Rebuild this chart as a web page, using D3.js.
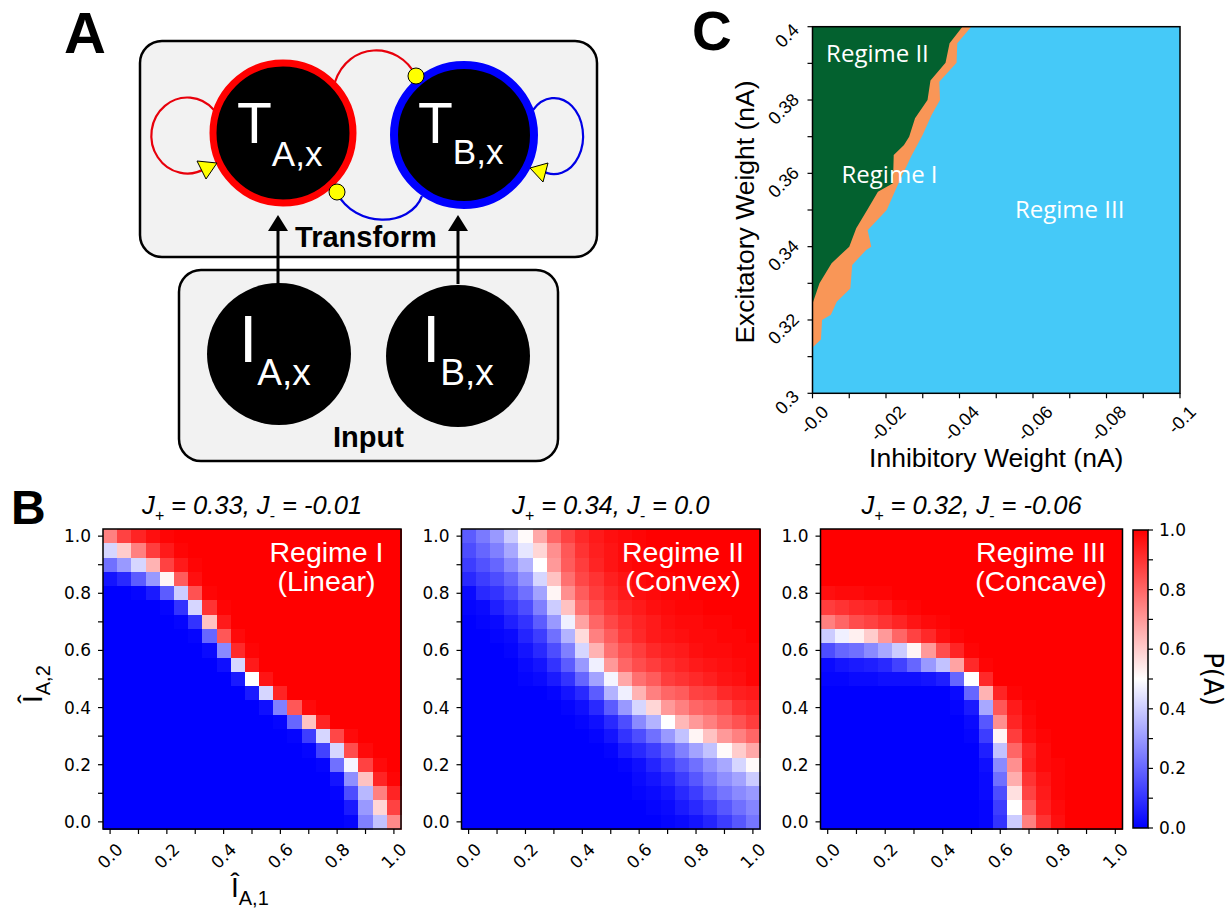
<!DOCTYPE html>
<html>
<head>
<meta charset="utf-8">
<script src="https://cdn.jsdelivr.net/npm/d3@7"></script>
<style>
  body { margin: 0; background: #fff; }
  svg text { font-family: "Liberation Sans", Arial, sans-serif; }
</style>
</head>
<body>
<svg id="fig" width="1231" height="911"></svg>
<script>
// ---------- Panel B data: P(A) on a 21 x 21 grid of normalised inputs ----------
const inputA1 = [0, 0.05, 0.1, 0.15, 0.2, 0.25, 0.3, 0.35, 0.4, 0.45, 0.5,
                 0.55, 0.6, 0.65, 0.7, 0.75, 0.8, 0.85, 0.9, 0.95, 1.0];
// rows listed from the top of the map (I_A,2 = 1.0) down to 0.0
const inputA2 = [1.0, 0.95, 0.9, 0.85, 0.8, 0.75, 0.7, 0.65, 0.6, 0.55, 0.5,
                 0.45, 0.4, 0.35, 0.3, 0.25, 0.2, 0.15, 0.1, 0.05, 0];

const pLinear = [
  [0.75,0.87,0.93,0.97,0.99,1,1,1,1,1,1,1,1,1,1,1,1,1,1,1,1],
  [0.42,0.60,0.75,0.88,0.95,0.99,1,1,1,1,1,1,1,1,1,1,1,1,1,1,1],
  [0.22,0.30,0.42,0.65,0.87,0.95,0.99,1,1,1,1,1,1,1,1,1,1,1,1,1,1],
  [0.04,0.08,0.18,0.30,0.52,0.82,0.97,1,1,1,1,1,1,1,1,1,1,1,1,1,1],
  [0,0,0.01,0.05,0.18,0.40,0.84,0.99,1,1,1,1,1,1,1,1,1,1,1,1,1],
  [0,0,0,0,0.01,0.10,0.42,0.90,0.99,1,1,1,1,1,1,1,1,1,1,1,1],
  [0,0,0,0,0,0.01,0.10,0.62,0.95,1,1,1,1,1,1,1,1,1,1,1,1],
  [0,0,0,0,0,0,0.01,0.20,0.83,0.98,1,1,1,1,1,1,1,1,1,1,1],
  [0,0,0,0,0,0,0,0.02,0.27,0.92,0.99,1,1,1,1,1,1,1,1,1,1],
  [0,0,0,0,0,0,0,0,0.03,0.42,0.95,1,1,1,1,1,1,1,1,1,1],
  [0,0,0,0,0,0,0,0,0,0.05,0.50,0.96,1,1,1,1,1,1,1,1,1],
  [0,0,0,0,0,0,0,0,0,0,0.05,0.42,0.93,1,1,1,1,1,1,1,1],
  [0,0,0,0,0,0,0,0,0,0,0,0.03,0.25,0.83,0.98,1,1,1,1,1,1],
  [0,0,0,0,0,0,0,0,0,0,0,0,0.01,0.20,0.62,0.93,1,1,1,1,1],
  [0,0,0,0,0,0,0,0,0,0,0,0,0,0.01,0.12,0.42,0.86,0.98,1,1,1],
  [0,0,0,0,0,0,0,0,0,0,0,0,0,0,0.01,0.13,0.42,0.85,0.98,1,1],
  [0,0,0,0,0,0,0,0,0,0,0,0,0,0,0,0.01,0.22,0.48,0.87,0.98,1],
  [0,0,0,0,0,0,0,0,0,0,0,0,0,0,0,0,0.04,0.28,0.62,0.93,0.99],
  [0,0,0,0,0,0,0,0,0,0,0,0,0,0,0,0,0.01,0.15,0.36,0.75,0.93],
  [0,0,0,0,0,0,0,0,0,0,0,0,0,0,0,0,0,0.05,0.30,0.58,0.87],
  [0,0,0,0,0,0,0,0,0,0,0,0,0,0,0,0,0,0.01,0.25,0.38,0.73]
];

const pConvex = [
  [0.18,0.24,0.30,0.40,0.51,0.67,0.80,0.87,0.92,0.95,0.97,0.98,0.99,1,1,1,1,1,1,1,1],
  [0.15,0.20,0.25,0.33,0.45,0.58,0.72,0.83,0.90,0.94,0.96,0.98,0.99,1,1,1,1,1,1,1,1],
  [0.12,0.16,0.20,0.27,0.35,0.50,0.70,0.82,0.88,0.93,0.96,0.98,0.99,0.99,1,1,1,1,1,1,1],
  [0.08,0.12,0.15,0.20,0.28,0.42,0.62,0.78,0.86,0.90,0.94,0.96,0.98,0.99,0.99,1,1,1,1,1,1],
  [0.02,0.08,0.10,0.15,0.22,0.32,0.52,0.72,0.82,0.88,0.92,0.95,0.97,0.98,0.99,0.99,1,1,1,1,1],
  [0.01,0.02,0.06,0.10,0.15,0.25,0.40,0.62,0.78,0.85,0.90,0.93,0.95,0.97,0.98,0.99,0.99,1,1,1,1],
  [0,0.01,0.02,0.06,0.10,0.18,0.30,0.47,0.68,0.80,0.86,0.90,0.93,0.95,0.97,0.98,0.98,0.99,0.99,1,1],
  [0,0,0.01,0.02,0.07,0.12,0.22,0.35,0.57,0.75,0.82,0.88,0.92,0.95,0.96,0.97,0.98,0.98,0.99,0.99,1],
  [0,0,0,0.01,0.04,0.08,0.15,0.25,0.42,0.65,0.78,0.84,0.88,0.92,0.94,0.95,0.97,0.98,0.98,0.99,0.99],
  [0,0,0,0,0.02,0.04,0.10,0.18,0.30,0.47,0.70,0.80,0.85,0.88,0.91,0.93,0.95,0.96,0.97,0.98,0.99],
  [0,0,0,0,0.01,0.02,0.05,0.10,0.20,0.32,0.48,0.67,0.78,0.82,0.88,0.90,0.92,0.94,0.96,0.97,0.99],
  [0,0,0,0,0,0,0.01,0.04,0.08,0.18,0.35,0.47,0.65,0.75,0.80,0.82,0.87,0.88,0.92,0.94,0.95],
  [0,0,0,0,0,0,0,0.01,0.03,0.08,0.18,0.30,0.42,0.58,0.70,0.75,0.80,0.82,0.85,0.90,0.92],
  [0,0,0,0,0,0,0,0,0.01,0.03,0.08,0.15,0.27,0.35,0.50,0.64,0.70,0.75,0.80,0.84,0.88],
  [0,0,0,0,0,0,0,0,0,0.01,0.04,0.10,0.15,0.22,0.30,0.38,0.52,0.62,0.70,0.75,0.80],
  [0,0,0,0,0,0,0,0,0,0,0.01,0.05,0.08,0.12,0.18,0.25,0.32,0.38,0.51,0.60,0.67],
  [0,0,0,0,0,0,0,0,0,0,0,0.01,0.03,0.07,0.12,0.17,0.22,0.28,0.33,0.42,0.51],
  [0,0,0,0,0,0,0,0,0,0,0,0,0.02,0.04,0.07,0.12,0.17,0.23,0.28,0.32,0.40],
  [0,0,0,0,0,0,0,0,0,0,0,0,0.01,0.02,0.04,0.08,0.12,0.18,0.23,0.27,0.30],
  [0,0,0,0,0,0,0,0,0,0,0,0,0,0.01,0.02,0.05,0.08,0.12,0.17,0.22,0.26],
  [0,0,0,0,0,0,0,0,0,0,0,0,0,0,0.01,0.02,0.04,0.07,0.12,0.17,0.23]
];

const pConcave = [
  [1,1,1,1,1,1,1,1,1,1,1,1,1,1,1,1,1,1,1,1,1],
  [1,1,1,1,1,1,1,1,1,1,1,1,1,1,1,1,1,1,1,1,1],
  [1,1,1,1,1,1,1,1,1,1,1,1,1,1,1,1,1,1,1,1,1],
  [1,1,1,1,1,1,1,1,1,1,1,1,1,1,1,1,1,1,1,1,1],
  [0.97,0.98,0.98,0.99,0.99,1,1,1,1,1,1,1,1,1,1,1,1,1,1,1,1],
  [0.88,0.90,0.92,0.93,0.95,0.98,0.99,1,1,1,1,1,1,1,1,1,1,1,1,1,1],
  [0.75,0.80,0.85,0.87,0.90,0.93,0.96,0.98,0.99,1,1,1,1,1,1,1,1,1,1,1,1],
  [0.40,0.47,0.53,0.60,0.70,0.80,0.87,0.92,0.97,0.99,1,1,1,1,1,1,1,1,1,1,1],
  [0.15,0.20,0.22,0.27,0.33,0.40,0.52,0.70,0.85,0.93,0.99,1,1,1,1,1,1,1,1,1,1],
  [0.02,0.04,0.05,0.06,0.08,0.13,0.20,0.30,0.38,0.68,0.92,0.99,1,1,1,1,1,1,1,1,1],
  [0.01,0.01,0.02,0.02,0.03,0.03,0.03,0.04,0.06,0.20,0.50,0.92,1,1,1,1,1,1,1,1,1],
  [0,0,0,0,0,0,0,0,0,0.02,0.20,0.65,0.93,0.99,1,1,1,1,1,1,1],
  [0,0,0,0,0,0,0,0,0,0.01,0.05,0.33,0.83,0.95,0.99,1,1,1,1,1,1],
  [0,0,0,0,0,0,0,0,0,0,0.02,0.17,0.72,0.93,0.98,1,1,1,1,1,1],
  [0,0,0,0,0,0,0,0,0,0,0.01,0.12,0.52,0.88,0.97,0.99,1,1,1,1,1],
  [0,0,0,0,0,0,0,0,0,0,0,0.06,0.38,0.80,0.93,0.98,1,1,1,1,1],
  [0,0,0,0,0,0,0,0,0,0,0,0.03,0.27,0.72,0.94,0.98,0.99,1,1,1,1],
  [0,0,0,0,0,0,0,0,0,0,0,0.02,0.22,0.66,0.90,0.96,0.99,1,1,1,1],
  [0,0,0,0,0,0,0,0,0,0,0,0.02,0.15,0.56,0.87,0.95,0.99,1,1,1,1],
  [0,0,0,0,0,0,0,0,0,0,0,0.01,0.12,0.50,0.82,0.94,0.98,1,1,1,1],
  [0,0,0,0,0,0,0,0,0,0,0,0.01,0.10,0.40,0.75,0.90,0.97,1,1,1,1]
];

const jPlus  = ["0.33", "0.34", "0.32"];
const jMinus = ["-0.01", "0.0", "-0.06"];
const regimeNames = [["Regime I", "(Linear)"], ["Regime II", "(Convex)"], ["Regime III", "(Concave)"]];

const heatTicks     = [0, 0.1, 0.2, 0.3, 0.4, 0.5, 0.6, 0.7, 0.8, 0.9, 1.0];
const heatTickText  = ["0.0", "", "0.2", "", "0.4", "", "0.6", "", "0.8", "", "1.0"];

// ---------- Panel C data: regime boundaries in the weight plane ----------
// edge between Regime II (left) and Regime I, [inhibitory, excitatory]
const edgeIItoI = [
  [-0.0408,0.4000],[-0.0373,0.3955],[-0.0362,0.3902],[-0.0321,0.3853],[-0.0313,0.3800],
  [-0.0279,0.3750],[-0.0263,0.3700],[-0.0249,0.3677],[-0.0221,0.3650],[-0.0219,0.3573],
  [-0.0178,0.3550],[-0.0150,0.3502],[-0.0119,0.3450],[-0.0100,0.3400],[-0.0052,0.3355],
  [-0.0019,0.3300],[0.0000,0.3244]
];
// edge between Regime I and Regime III (right)
const edgeItoIII = [
  [-0.0432,0.4000],[-0.0394,0.3955],[-0.0392,0.3902],[-0.0345,0.3850],[-0.0347,0.3800],
  [-0.0324,0.3759],[-0.0300,0.3705],[-0.0268,0.3645],[-0.0230,0.3564],[-0.0202,0.3500],
  [-0.0150,0.3445],[-0.0160,0.3400],[-0.0146,0.3391],[-0.0108,0.3350],[-0.0103,0.3286],
  [-0.0066,0.3250],[-0.0050,0.3214],[-0.0026,0.3200],[-0.0023,0.3147],[0.0000,0.3125]
];
const inhTicks = [0, -0.02, -0.04, -0.06, -0.08, -0.1];
const inhTickText = ["-0.0", "-0.02", "-0.04", "-0.06", "-0.08", "-0.1"];
const inhMinor = [-0.01, -0.03, -0.05, -0.07, -0.09];
const excTicks = [0.3, 0.32, 0.34, 0.36, 0.38, 0.4];
const excTickText = ["0.3", "0.32", "0.34", "0.36", "0.38", "0.4"];
const excMinor = [0.31, 0.33, 0.35, 0.37, 0.39];

const cbTicks = [0, 0.1, 0.2, 0.3, 0.4, 0.5, 0.6, 0.7, 0.8, 0.9, 1.0];
const cbTickText = ["0.0", "", "0.2", "", "0.4", "", "0.6", "", "0.8", "", "1.0"];

// ---------- drawing ----------
const svg = d3.select("#fig");
const bwr = d3.scaleLinear().domain([0, 0.5, 1]).range(["#0000ff", "#ffffff", "#ff0000"]);
const TICK_FONT = "'DejaVu Sans', sans-serif";

// rotated (-45 deg) label whose rotated box is centred on cx with its top at `top`
function rotLabelBelow(g, str, cx, top, size, family) {
  const t = g.append("text").text(str)
    .attr("text-anchor", "middle").attr("dominant-baseline", "central")
    .style("font-family", family).style("font-size", size + "px");
  const w = t.node().getComputedTextLength();
  const side = (w + 0.72 * size) * 0.7071;
  t.attr("transform", `translate(${cx},${top + side / 2}) rotate(-45)`);
}
// rotated (-45 deg) label whose rotated box has its right edge at `right`
function rotLabelLeft(g, str, right, cy, size, family) {
  const t = g.append("text").text(str)
    .attr("text-anchor", "middle").attr("dominant-baseline", "central")
    .style("font-family", family).style("font-size", size + "px");
  const w = t.node().getComputedTextLength();
  const side = (w + 0.72 * size) * 0.7071;
  t.attr("transform", `translate(${right - side / 2},${cy}) rotate(-45)`);
}

// ===== Panel A: circuit schematic =====
(function drawSchematic() {
  const g = svg.append("g");
  const box = (x, y, w, h) => g.append("rect").attr("x", x).attr("y", y)
    .attr("width", w).attr("height", h).attr("rx", 22)
    .attr("fill", "#f2f2f2").attr("stroke", "#000").attr("stroke-width", 2.5);
  box(140, 41, 457, 216);
  box(179, 270, 379, 191);

  // self-excitation loops and cross-inhibition arcs
  g.append("path").attr("d", "M214,110 A36 38 0 1 0 206,168")
    .attr("fill", "none").attr("stroke", "#e8000b").attr("stroke-width", 2.2);
  g.append("path").attr("d", "M533,110 A29 38 0 1 1 541,170")
    .attr("fill", "none").attr("stroke", "#0000e6").attr("stroke-width", 2.2);
  g.append("path").attr("d", "M335,82 C348,42 398,40 416,76")
    .attr("fill", "none").attr("stroke", "#e8000b").attr("stroke-width", 2.2);
  g.append("path").attr("d", "M422,196 C410,228 355,228 337,193")
    .attr("fill", "none").attr("stroke", "#0000e6").attr("stroke-width", 2.2);

  // transform-layer units
  g.append("circle").attr("cx", 283).attr("cy", 133).attr("r", 70)
    .attr("fill", "#000").attr("stroke", "#ff0000").attr("stroke-width", 7);
  g.append("circle").attr("cx", 464).attr("cy", 135).attr("r", 70)
    .attr("fill", "#000").attr("stroke", "#0000ff").attr("stroke-width", 8);
  // input units
  g.append("ellipse").attr("cx", 279).attr("cy", 354).attr("rx", 72).attr("ry", 71).attr("fill", "#000");
  g.append("ellipse").attr("cx", 458).attr("cy", 356).attr("rx", 72).attr("ry", 71).attr("fill", "#000");

  // synapse markers
  g.append("polygon").attr("points", "197,161 217,163 206,179")
    .attr("fill", "#ffff00").attr("stroke", "#000").attr("stroke-width", 1);
  g.append("polygon").attr("points", "548,163 530,168 543,182")
    .attr("fill", "#ffff00").attr("stroke", "#000").attr("stroke-width", 1);
  g.append("circle").attr("cx", 416).attr("cy", 76).attr("r", 8)
    .attr("fill", "#ffff00").attr("stroke", "#000").attr("stroke-width", 1);
  g.append("circle").attr("cx", 337).attr("cy", 192).attr("r", 8)
    .attr("fill", "#ffff00").attr("stroke", "#000").attr("stroke-width", 1);

  // feed-forward arrows
  [278, 458].forEach(x => {
    g.append("line").attr("x1", x).attr("x2", x).attr("y1", 284).attr("y2", 228)
      .attr("stroke", "#000").attr("stroke-width", 3);
    g.append("polygon").attr("points", `${x},215 ${x - 10},231 ${x + 10},231`).attr("fill", "#000");
  });

  // unit labels
  const unit = (x, y, main, mainSize, sub, subSize, dy) => {
    const t = g.append("text").attr("x", x).attr("y", y).attr("fill", "#fff")
      .style("font-size", mainSize + "px").text(main);
    t.append("tspan").attr("dy", dy).style("font-size", subSize + "px").text(sub);
  };
  unit(237, 143, "T", 57, "A,x", 35, 23);
  unit(418, 143, "T", 57, "B,x", 35, 21);
  unit(239, 362, "I", 66, "A,x", 37, 23);
  unit(422, 362, "I", 66, "B,x", 37, 23);

  g.append("text").attr("x", 366).attr("y", 247).attr("text-anchor", "middle")
    .style("font-size", "29px").style("font-weight", "bold").text("Transform");
  g.append("text").attr("x", 368.5).attr("y", 447).attr("text-anchor", "middle")
    .style("font-size", "29px").style("font-weight", "bold").text("Input");
})();

// ===== Panel B: P(A) maps =====
const frames = [{ x0: 103, x1: 401 }, { x0: 461.5, x1: 760 }, { x0: 820.5, x1: 1122.5 }];
const mapTop = 529, mapBottom = 829;
const maps = [pLinear, pConvex, pConcave];
const textCentres = [326.5, 683, 1041];

maps.forEach((vals, k) => {
  const g = svg.append("g");
  const x = d3.scaleLinear().domain([-0.025, 1.025]).range([frames[k].x0, frames[k].x1]);
  const y = d3.scaleLinear().domain([-0.025, 1.025]).range([mapBottom, mapTop]);
  const half = 0.025;

  const cells = [];
  vals.forEach((row, r) => row.forEach((v, c) => cells.push({ a1: inputA1[c], a2: inputA2[r], v })));
  g.append("g").selectAll("rect").data(cells).join("rect")
    .attr("x", d => x(d.a1 - half))
    .attr("y", d => y(d.a2 + half))
    .attr("width", d => x(d.a1 + half) - x(d.a1 - half) + 0.5)
    .attr("height", d => y(d.a2 - half) - y(d.a2 + half) + 0.5)
    .attr("fill", d => bwr(d.v))
    .attr("shape-rendering", "crispEdges");

  // frame
  g.append("rect").attr("x", frames[k].x0).attr("y", mapTop)
    .attr("width", frames[k].x1 - frames[k].x0).attr("height", mapBottom - mapTop)
    .attr("fill", "none").attr("stroke", "#000").attr("stroke-width", 1.5);

  // ticks
  g.selectAll(".xt").data(heatTicks).join("line")
    .attr("x1", d => x(d)).attr("x2", d => x(d))
    .attr("y1", mapBottom).attr("y2", mapBottom + 5)
    .attr("stroke", "#000").attr("stroke-width", 1.2);
  g.selectAll(".yt").data(heatTicks).join("line")
    .attr("y1", d => y(d)).attr("y2", d => y(d))
    .attr("x1", frames[k].x0).attr("x2", frames[k].x0 - 5)
    .attr("stroke", "#000").attr("stroke-width", 1.2);

  heatTicks.forEach((d, i) => {
    if (!heatTickText[i]) return;
    g.append("text").attr("x", frames[k].x0 - 12).attr("y", y(d))
      .attr("text-anchor", "end").attr("dominant-baseline", "central")
      .style("font-family", TICK_FONT).style("font-size", "17px").text(heatTickText[i]);
    rotLabelBelow(g, heatTickText[i], x(d), mapBottom + 13, 17, TICK_FONT);
  });

  // title with subscripted J's
  const cx = (frames[k].x0 + frames[k].x1) / 2;
  const t = g.append("text").attr("x", cx).attr("y", 514).attr("text-anchor", "middle")
    .style("font-size", "25.5px").style("font-style", "italic");
  t.append("tspan").text("J");
  t.append("tspan").attr("dy", 7).style("font-size", "16px").text("+");
  t.append("tspan").attr("dy", -7).text(" = " + jPlus[k] + ", J");
  t.append("tspan").attr("dy", 7).style("font-size", "16px").text("-");
  t.append("tspan").attr("dy", -7).text(" = " + jMinus[k]);

  // regime name, two centred lines
  regimeNames[k].forEach((line, i) => {
    g.append("text").attr("x", textCentres[k]).attr("y", 562 + i * 29)
      .attr("text-anchor", "middle").attr("fill", "#fff")
      .style("font-size", "28.5px").text(line);
  });
});

// axis labels of the first map
(function () {
  const yl = svg.append("text").attr("transform", "translate(42,703) rotate(-90)")
    .style("font-size", "28px");
  yl.append("tspan").text("Î");
  yl.append("tspan").attr("dy", 8).style("font-size", "20px").text("A,2");
  const xl = svg.append("text").attr("x", 231).attr("y", 897).style("font-size", "28px");
  xl.append("tspan").text("Î");
  xl.append("tspan").attr("dy", 8).style("font-size", "20px").text("A,1");
})();

// colour bar
(function () {
  const x0 = 1133, w = 15, top = 530, bottom = 828;
  const grad = svg.append("defs").append("linearGradient").attr("id", "bwrGrad")
    .attr("x1", 0).attr("y1", 1).attr("x2", 0).attr("y2", 0);
  [0, 0.5, 1].forEach(s => grad.append("stop").attr("offset", s).attr("stop-color", bwr(s)));
  svg.append("rect").attr("x", x0).attr("y", top).attr("width", w).attr("height", bottom - top)
    .attr("fill", "url(#bwrGrad)").attr("stroke", "#000").attr("stroke-width", 1.5);
  const cy = d3.scaleLinear().domain([0, 1]).range([bottom, top]);
  cbTicks.forEach((d, i) => {
    svg.append("line").attr("x1", x0 + w).attr("x2", x0 + w + 5)
      .attr("y1", cy(d)).attr("y2", cy(d)).attr("stroke", "#000").attr("stroke-width", 1.2);
    if (cbTickText[i]) svg.append("text").attr("x", 1159).attr("y", cy(d))
      .attr("dominant-baseline", "central")
      .style("font-family", TICK_FONT).style("font-size", "17px").text(cbTickText[i]);
  });
  svg.append("text").attr("transform", "translate(1204,679) rotate(90)")
    .attr("text-anchor", "middle").style("font-family", TICK_FONT)
    .style("font-size", "26px").text("P(A)");
})();

// ===== Panel C: regime map =====
(function () {
  const g = svg.append("g");
  const left = 812.5, right = 1180, top = 26.7, bottom = 393.3;
  const x = d3.scaleLinear().domain([0, -0.1]).range([left, right]);
  const y = d3.scaleLinear().domain([0.3, 0.4]).range([bottom, top]);
  const line = d3.line().x(d => x(d[0])).y(d => y(d[1]));

  g.append("rect").attr("x", left).attr("y", top).attr("width", right - left)
    .attr("height", bottom - top).attr("fill", "#45c9f8");
  // Regime I band: everything left of the I/III edge
  g.append("path").attr("d", line([[0, 0.4], ...edgeItoIII]) + "Z").attr("fill", "#f99657");
  // Regime II: everything left of the II/I edge
  g.append("path").attr("d", line([[0, 0.4], ...edgeIItoI]) + "Z").attr("fill", "#03612f");

  g.append("rect").attr("x", left).attr("y", top).attr("width", right - left)
    .attr("height", bottom - top).attr("fill", "none").attr("stroke", "#000").attr("stroke-width", 1.5);

  const tickX = v => g.append("line").attr("x1", x(v)).attr("x2", x(v))
    .attr("y1", bottom).attr("y2", bottom + 5).attr("stroke", "#000").attr("stroke-width", 1.2);
  const tickY = v => g.append("line").attr("y1", y(v)).attr("y2", y(v))
    .attr("x1", left).attr("x2", left - 5).attr("stroke", "#000").attr("stroke-width", 1.2);
  inhTicks.concat(inhMinor).forEach(tickX);
  excTicks.concat(excMinor).forEach(tickY);
  inhTicks.forEach((v, i) => rotLabelBelow(g, inhTickText[i], x(v) + 2, bottom + 11, 18, "'Liberation Sans'"));
  excTicks.forEach((v, i) => rotLabelLeft(g, excTickText[i], left - 12, y(v) + 9, 18, "'Liberation Sans'"));

  g.append("text").attr("x", (left + right) / 2).attr("y", 467).attr("text-anchor", "middle")
    .style("font-size", "26.5px").text("Inhibitory Weight (nA)");
  g.append("text").attr("transform", `translate(754,${(top + bottom) / 2 + 2}) rotate(-90)`)
    .attr("text-anchor", "middle").style("font-size", "26.5px").text("Excitatory Weight (nA)");

  const lab = (txt, px, py) => g.append("text").attr("x", x(px)).attr("y", y(py))
    .attr("fill", "#fff").style("font-family", "'Open Sans', sans-serif")
    .style("font-size", "24px").text(txt);
  lab("Regime II", -0.0037, 0.3904);
  lab("Regime I", -0.0079, 0.3574);
  lab("Regime III", -0.0551, 0.3478);
})();

// panel letters
[["A", 64, 53, 58], ["B", 11, 524, 48], ["C", 692, 50, 55]].forEach(([s, px, py, fs]) =>
  svg.append("text").attr("x", px).attr("y", py).style("font-size", fs + "px")
    .style("font-weight", "bold").text(s));
</script>
</body>
</html>
